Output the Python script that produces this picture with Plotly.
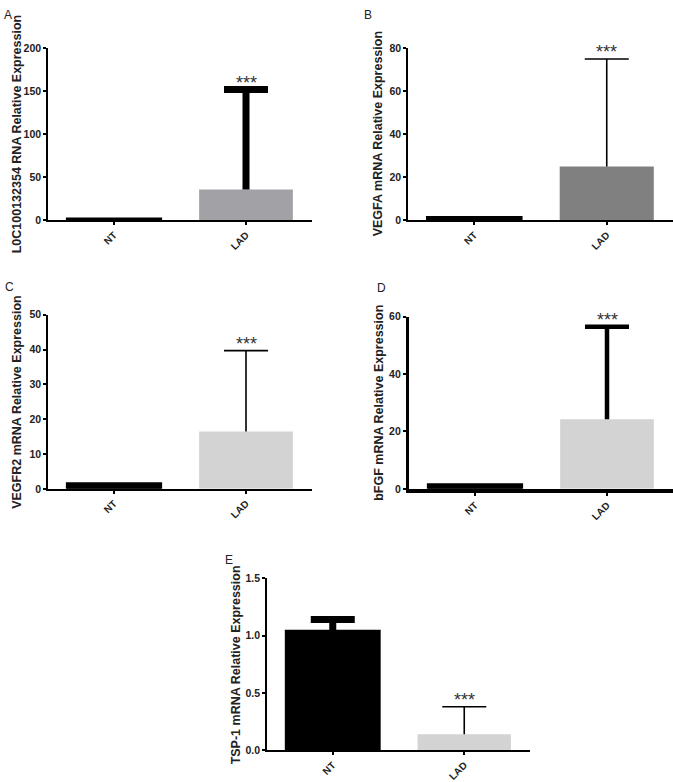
import plotly.graph_objects as go

W, H = 673, 782

categories = ["NT", "LAD"]

# panel data
panel_labels = ["A", "B", "C", "D", "E"]
titles = [
    "L0C100132354 RNA Relative Expression",
    "VEGFA mRNA Relative Expression",
    "VEGFR2 mRNA Relative Expression",
    "bFGF mRNA Relative Expression",
    "TSP-1 mRNA Relative Expression",
]
means_A = [2.0, 36.0]
err_A = [0.0, 116.0]
means_B = [1.5, 25.0]
err_B = [0.0, 50.0]
means_C = [1.5, 16.5]
err_C = [0.0, 23.2]
means_D = [1.5, 24.3]
err_D = [0.0, 32.2]
means_E = [1.04, 0.14]
err_E = [0.10, 0.24]

yticks_A = [0, 50, 100, 150, 200]
yticks_B = [0, 20, 40, 60, 80]
yticks_C = [0, 10, 20, 30, 40, 50]
yticks_D = [0, 20, 40, 60]
yticks_E = [0.0, 0.5, 1.0, 1.5]
yticklabels_E = ["0.0", "0.5", "1.0", "1.5"]

# layout specs in pixels: (x0, x1, ytop, ybottom)
boxes = [
    (48, 312, 43, 218),
    (408, 673, 43, 218),
    (48, 312, 314, 491),
    (409, 673, 316, 491),
    (267, 530, 582, 757),
]
lad_colors = ["#a2a2a6", "#808080", "#d3d3d3", "#d3d3d3", "#d3d3d3"]
err_thick = [[7, 7], [1.6, 1.6], [1.6, 1.6], [4.5, 4.5], [7, 1.6]]
axis_w = [1.6, 1.6, 1.6, 3.2, 1.6]
label_pos = [(2, 9), (362, 9), (3, 286), (375, 287), (223, 563)]
title_off = [31, 30, 31, 30, 31]

data = [
    (means_A, err_A, yticks_A, None),
    (means_B, err_B, yticks_B, None),
    (means_C, err_C, yticks_C, None),
    (means_D, err_D, yticks_D, None),
    (means_E, err_E, yticks_E, yticklabels_E),
]

FONT = "Liberation Sans, Arial, sans-serif"
fig = go.Figure()
annotations = []
layout = {}

for i, (means, errs, yt, ytl) in enumerate(data):
    n = "" if i == 0 else str(i + 1)
    xa, ya = "x" + n, "y" + n
    x0, x1, yt_px, yb_px = boxes[i]
    ymax = yt[-1]
    unit_px = (x1 - x0) / 2.0
    cap_half = 22 / unit_px
    for j, cat in enumerate(categories):
        is_nt = j == 0
        col = "#000000" if is_nt else lad_colors[i]
        fig.add_trace(go.Bar(
            x=[j], y=[means[j]], width=0.71,
            marker=dict(color=col, line=dict(color=col, width=2.5 if is_nt else 0)),
            xaxis=xa, yaxis=ya, showlegend=False, hoverinfo="skip",
        ))
        if errs[j] > 0:
            top = means[j] + errs[j]
            fig.add_trace(go.Scatter(
                x=[j], y=[top], mode="markers", marker=dict(size=1, opacity=0),
                error_y=dict(type="data", symmetric=False, array=[0], arrayminus=[errs[j]],
                             color="#000000", thickness=err_thick[i][j], width=0),
                error_x=dict(type="data", array=[cap_half], color="#000000",
                             thickness=err_thick[i][j], width=0),
                xaxis=xa, yaxis=ya, showlegend=False, hoverinfo="skip",
            ))
    # significance marks on LAD
    top = means[1] + errs[1]
    annotations.append(dict(
        x=1, y=top, xref=xa, yref=ya, text="***", showarrow=False,
        yanchor="bottom", yshift=-5, font=dict(family=FONT, size=18, color="#333333"),
    ))
    # y axis title
    annotations.append(dict(
        x=(x0 - title_off[i]) / W, y=1 - (yt_px + yb_px) / 2 / H, xref="paper", yref="paper",
        text=titles[i], textangle=-90, showarrow=False,
        font=dict(family=FONT, size=12.5, color="#222222", weight="bold"),
        xanchor="center", yanchor="middle",
    ))
    # panel label
    lx, ly = label_pos[i]
    annotations.append(dict(
        x=lx / W, y=1 - ly / H, xref="paper", yref="paper", text=panel_labels[i],
        showarrow=False, xanchor="left", yanchor="middle",
        font=dict(family=FONT, size=12, color="#222222"),
    ))
    layout["xaxis" + n] = dict(
        domain=[x0 / W, x1 / W], anchor=ya, range=[-0.5, 1.5],
        tickmode="array", tickvals=[0, 1], ticktext=categories, tickangle=-45,
        showline=True, linecolor="#000000", linewidth=axis_w[i] + 0.4,
        ticks="outside", ticklen=3, tickwidth=1.5, tickcolor="#000000",
        showgrid=False, zeroline=False,
        tickfont=dict(family=FONT, size=10, color="#222222", weight="bold"),
    )
    layout["yaxis" + n] = dict(
        domain=[1 - yb_px / H, 1 - yt_px / H], anchor=xa, range=[0, ymax],
        tickmode="array", tickvals=yt, ticktext=ytl if ytl else [str(v) for v in yt],
        showline=True, linecolor="#000000", linewidth=axis_w[i],
        ticks="outside", ticklen=3, tickwidth=1.5, tickcolor="#000000",
        showgrid=False, zeroline=False,
        tickfont=dict(family=FONT, size=10.5, color="#222222", weight="bold"),
    )

fig.update_layout(
    width=W, height=H, margin=dict(l=0, r=0, t=0, b=0),
    paper_bgcolor="white", plot_bgcolor="white",
    annotations=annotations, barmode="overlay", **layout,
)
fig.write_html(
    "out.html",
    config={"displayModeBar": False},
    post_script="document.body.style.margin='0';document.body.style.overflow='hidden';",
)
